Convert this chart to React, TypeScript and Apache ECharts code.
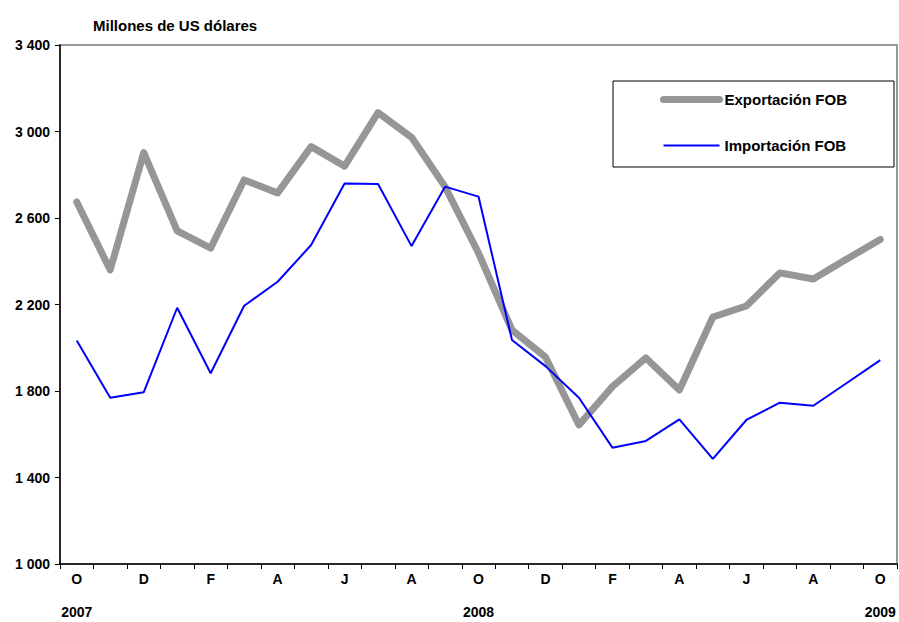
import React, { useEffect, useRef } from "react";
import * as echarts from "echarts";

const months = ["O", "N", "D", "E", "F", "M", "A", "M", "J", "J", "A", "S", "O", "N", "D", "E", "F", "M", "A", "M", "J", "J", "A", "S", "O"];
const years = ["2007", "", "", "", "", "", "", "", "", "", "", "", "2008", "", "", "", "", "", "", "", "", "", "", "", "2009"];
const exportaciones = [2674, 2360, 2902, 2540, 2461, 2776, 2716, 2930, 2840, 3087, 2973, 2745, 2438, 2082, 1957, 1643, 1820, 1953, 1805, 2142, 2193, 2346, 2318, 2410, 2501];
const importaciones = [2033, 1769, 1794, 2185, 1882, 2194, 2305, 2475, 2760, 2757, 2470, 2745, 2699, 2036, 1915, 1769, 1538, 1569, 1669, 1486, 1666, 1746, 1732, 1837, 1943];
const yTicks = { min: 1000, max: 3400, interval: 400 };

const FONT = "'Liberation Sans', Arial, sans-serif";
const labelText = { fontFamily: FONT, fontSize: 14, fontWeight: "bold", color: "#000" };

export default function App() {
  const ref = useRef<HTMLDivElement>(null);
  useEffect(() => {
    if (!ref.current) return;
    const chart = echarts.init(ref.current, undefined, { renderer: "svg" });
    chart.setOption({
      animation: false,
      backgroundColor: "#ffffff",
      title: {
        text: "Millones de US dólares",
        left: 88,
        top: 13,
        textStyle: { fontFamily: FONT, fontSize: 15, fontWeight: "bold", color: "#000" },
      },
      legend: {
        orient: "vertical",
        left: 613,
        top: 81,
        padding: [11, 47, 14, 47],
        itemGap: 31,
        itemWidth: 56,
        itemHeight: 14,
        borderColor: "#000",
        borderWidth: 1,
        backgroundColor: "#fff",
        itemStyle: { opacity: 0 },
        textStyle: { fontFamily: FONT, fontSize: 15, fontWeight: "bold", color: "#000" },
        data: [
          { name: "Exportación FOB", lineStyle: { width: 7, cap: "round", color: "#969696" } },
          { name: "Importación FOB", lineStyle: { width: 2, color: "#0000ff" } },
        ],
      },
      grid: {
        left: 60,
        right: 2,
        top: 45,
        bottom: 58,
        outerBoundsMode: "none",
        containLabel: false,
        show: true,
        borderColor: "#999",
        borderWidth: 2,
        backgroundColor: "transparent",
      },
      xAxis: {
        type: "category",
        data: months,
        boundaryGap: true,
        axisLine: { lineStyle: { color: "#000", width: 1.5 } },
        axisTick: { show: true, interval: 0, length: 5, lineStyle: { color: "#000", width: 1 } },
        axisLabel: {
          interval: 1,
          margin: 5,
          ...labelText,
          formatter: (v: string, i: number) => (years[i] ? `{m|${v}}\n{y|${years[i]}}` : `{m|${v}}`),
          rich: {
            m: { ...labelText, lineHeight: 20 },
            y: { ...labelText, lineHeight: 46 },
          },
        },
        splitLine: { show: false },
      },
      yAxis: {
        type: "value",
        min: yTicks.min,
        max: yTicks.max,
        interval: yTicks.interval,
        axisLine: { show: true, lineStyle: { color: "#000", width: 1.5 } },
        axisTick: { show: true, length: 5, lineStyle: { color: "#000" } },
        axisLabel: {
          margin: 10,
          ...labelText,
          formatter: (v: number) => String(v).replace(/\B(?=(\d{3})+(?!\d))/g, " "),
        },
        splitLine: { show: false },
      },
      series: [
        {
          name: "Exportación FOB",
          type: "line",
          data: exportaciones,
          symbol: "none",
          showSymbol: false,
          color: "#969696",
          lineStyle: { color: "#969696", width: 7, cap: "round", join: "round" },
        },
        {
          name: "Importación FOB",
          type: "line",
          data: importaciones,
          symbol: "none",
          showSymbol: false,
          color: "#0000ff",
          lineStyle: { color: "#0000ff", width: 2 },
        },
      ],
    });
    return () => chart.dispose();
  }, []);
  return <div ref={ref} style={{ width: 899, height: 622, position: "absolute", left: 0, top: 0 }} />;
}
